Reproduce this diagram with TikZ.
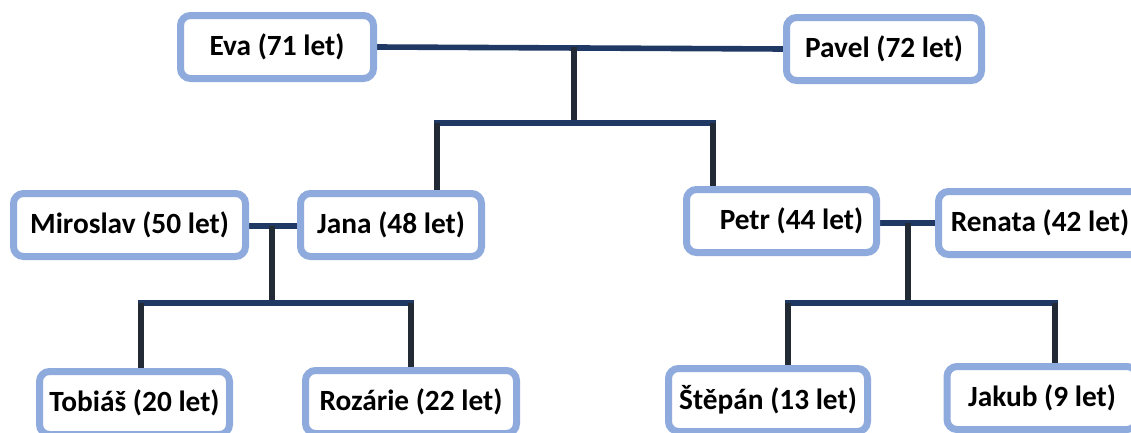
\documentclass[tikz,border=0pt]{standalone}
\usepackage{fontspec}
\setmainfont{Carlito}
\usetikzlibrary{backgrounds}
\definecolor{boxblue}{HTML}{8FAADC}
\definecolor{hline}{HTML}{203864}
\definecolor{vline}{HTML}{222A35}
\tikzset{
  person/.style={draw=boxblue, line width=5.25pt, rounded corners=7.5pt, fill=white,
    minimum height=47.25pt, inner sep=0pt, text=black,
    font=\bfseries\fontsize{22}{26}\selectfont},
  hlink/.style={draw=hline, line width=4.2pt, line cap=rect},
  vlink/.style={draw=vline, line width=3.8pt}
}
\begin{document}
\begin{tikzpicture}[x=0.75pt, y=-0.75pt]
\useasboundingbox (0,0) rectangle (1131,432);
\clip (0,0) rectangle (1131,432);
% people
\node[person, minimum width=144.75pt] (eva) at (277,47) {Eva (71 let)};
\node[person, minimum width=146.25pt] (pavel) at (884,49) {Pavel (72 let)};
\node[person, minimum width=174pt] (miroslav) at (129.5,225) {Miroslav (50 let)};
\node[person, minimum width=135.75pt] (jana) at (391,225) {Jana (48 let)};
\node[person, minimum width=142.5pt] (petr) at (781.5,221) {\hspace*{15pt}Petr (44 let)};
\node[person, minimum width=152.25pt] (renata) at (1040,223) {Renata (42 let)};
\node[person, minimum width=142.5pt] (tobias) at (134.5,403) {Tobiáš (20 let)};
\node[person, minimum width=158.25pt] (rozarie) at (411,402) {Rozárie (22 let)};
\node[person, minimum width=149.25pt] (stepan) at (768,400) {Štěpán (13 let)};
\node[person, minimum width=142.5pt] (jakub) at (1042,398) {Jakub (9 let)};
% junctions
\coordinate (j1) at (574,47);
\coordinate (j1b) at (574,123);
\coordinate (ja) at (437,123);
\coordinate (jb) at (713,123);
\coordinate (j2) at (272,226);
\coordinate (j2b) at (272,303);
\coordinate (j2l) at (141,303);
\coordinate (j2r) at (411,303);
\coordinate (j3) at (908,223);
\coordinate (j3b) at (908,303);
\coordinate (j3l) at (788,303);
\coordinate (j3r) at (1055,303);
\begin{scope}[on background layer]
\draw[hlink] (eva.east) -- (pavel.west);
\draw[vlink] (j1) -- (j1b);
\draw[hlink] (ja) -- (jb);
\draw[vlink] (ja) -- (ja |- jana.north);
\draw[vlink] (jb) -- (jb |- petr.north);
\draw[hlink] (miroslav.east |- j2) -- (jana.west |- j2);
\draw[vlink] (j2) -- (j2b);
\draw[hlink] (j2l) -- (j2r);
\draw[vlink] (j2l) -- (j2l |- tobias.north);
\draw[vlink] (j2r) -- (j2r |- rozarie.north);
\draw[hlink] (petr.east |- j3) -- (renata.west |- j3);
\draw[vlink] (j3) -- (j3b);
\draw[hlink] (j3l) -- (j3r);
\draw[vlink] (j3l) -- (j3l |- stepan.north);
\draw[vlink] (j3r) -- (j3r |- jakub.north);
\end{scope}
\end{tikzpicture}
\end{document}
